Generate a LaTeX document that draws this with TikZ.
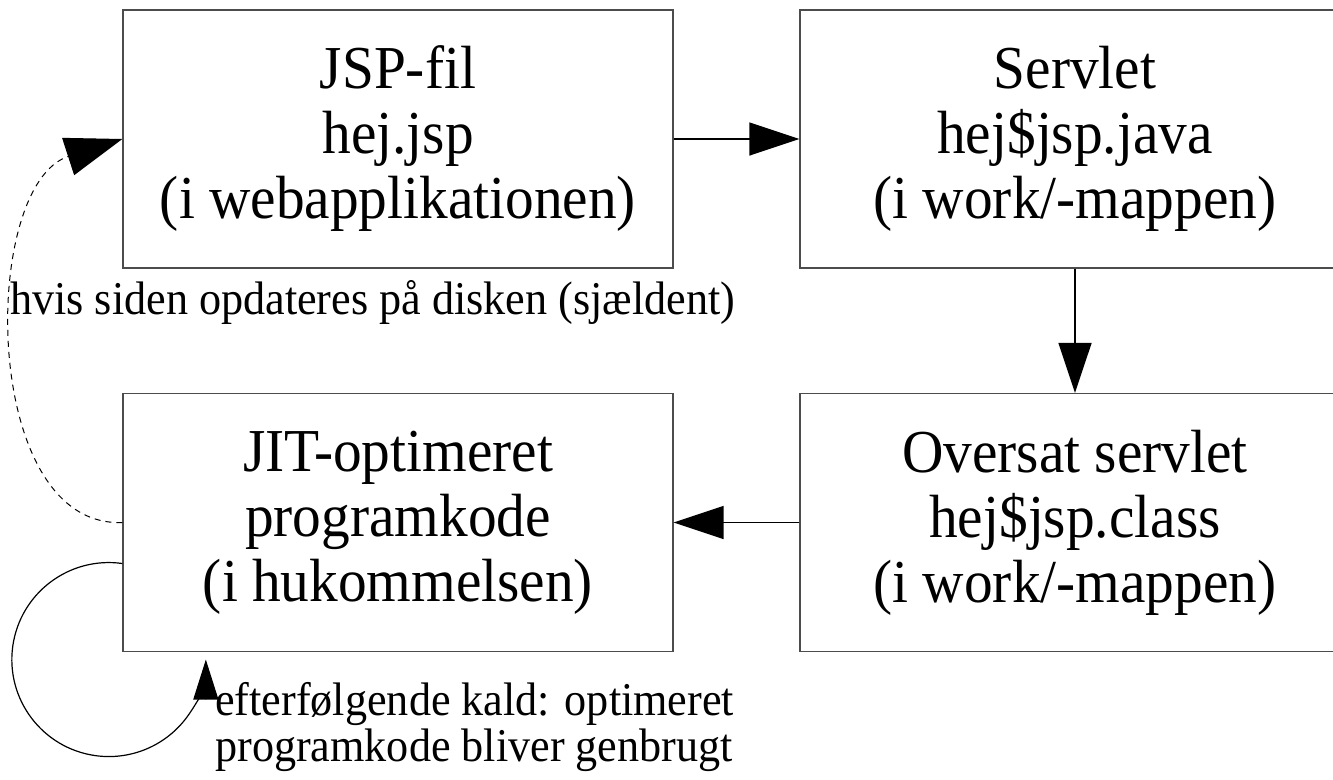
\documentclass[tikz,border=0pt]{standalone}
\usepackage{fontspec}
\setmainfont{Liberation Serif}[FakeStretch=0.94]
\usetikzlibrary{arrows.meta}
\begin{document}
\begin{tikzpicture}[x=1pt,y=-1pt,
  box/.style={draw=black!70, line width=1.3pt, fill=white,
    minimum width=550pt, minimum height=258pt, inner sep=0pt,
    align=center, font=\fontsize{61}{65}\selectfont},
  flow/.style={line width=1.6pt, -{Triangle[length=50pt,width=33pt]}},
  note/.style={inner sep=0pt, align=left, font=\fontsize{47}{46}\selectfont}]
\fill[white] (0,0) rectangle (1333,779);
\useasboundingbox (0,0) rectangle (1333,779);

% the four stages
\node[box] (jsp)     at (398,139)   {JSP-fil\\hej.jsp\\(i webapplikationen)};
\node[box] (servlet) at (1075,139)  {Servlet\\hej\$jsp.java\\(i work/-mappen)};
\node[box] (jit)     at (398,522.5) {JIT-optimeret\\programkode\\(i hukommelsen)};
\node[box] (class)   at (1075,522.5){Oversat servlet\\hej\$jsp.class\\(i work/-mappen)};

% main pipeline
\draw[flow] (jsp.east) -- (servlet.west);
\draw[flow] (servlet.south) -- (class.north);
\draw[flow] (class.west) -- (jit.east);

% recompilation when the page changes
\draw[line width=1pt, dash pattern=on 6pt off 5pt,
      -{Triangle[length=57pt,width=39pt]}]
  (jit.west) .. controls (-20,528) and (-20,185) .. (jsp.west);
\node[note, anchor=west] (upd) at (10,302)
  {hvis siden opdateres på disken (sjældent)};

% reuse on later calls
\draw[line width=1.2pt, -{Triangle[length=40pt,width=25pt]}]
  ([yshift=-41pt]jit.west) arc[start angle=278, end angle=0, radius=97];
\node[note, anchor=west] (reuse) at (215,727)
  {efterfølgende kald: optimeret\\programkode bliver genbrugt};
\end{tikzpicture}
\end{document}
